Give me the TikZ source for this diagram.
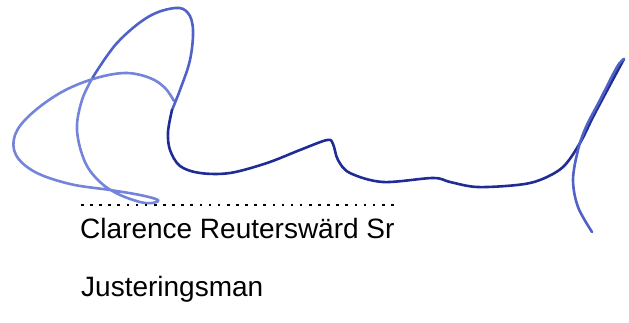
\documentclass[tikz,border=0pt]{standalone}
\usepackage{fontspec}
\setmainfont{Liberation Sans}
\definecolor{inkdark}{RGB}{32,44,150}
\definecolor{inkmid}{RGB}{80,98,200}
\definecolor{inklight}{RGB}{115,132,218}
\tikzset{
  ink/.style={line width=2.6pt, line cap=round, line join=round},
  inktext/.style={font=\fontsize{28}{32}\selectfont, inner sep=0pt}
}
\begin{document}
\begin{tikzpicture}[x=1pt, y=-1pt]
	\useasboundingbox (0,0) rectangle (629,323);

	% signature: loop
	\draw[ink, inklight] plot[smooth, tension=0.6] coordinates {(174,101) (165,88) (150,78) (125,73) (93,79) (60,93) (30,115) (15,135) (16,155) (35,172) (70,184) (110,190) (140,195) (158,200) (152,203) (140,202) (118,194) (100,182) (85,162) (77,130) (82,100) (93,77)};
	% signature: hump
	\draw[ink, inkmid] plot[smooth, tension=0.6] coordinates {(93,77) (117,43) (148,17) (175,8) (188,13) (193,30) (190,60) (180,90) (172,110)};
	% signature: main line and end stroke
	\draw[ink, inkdark] plot[smooth, tension=0.55] coordinates {(172,110) (168,132) (170,150) (180,166) (200,173) (230,173) (267,163) (300,150) (327,140) (333,144) (338,160) (350,173) (383,182) (433,178) (450,182) (477,187) (517,185) (540,180) (563,167) (580,143) (593,117) (610,85) (624,59)};
	\draw[ink, inkmid] plot[smooth, tension=0.55] coordinates {(624,59) (617,67) (600,100) (586,127) (578,150) (573,180) (578,207) (592,232)};

	% dotted line
	\foreach \i in {0,...,34}
		\fill (81+\i*9.12,203.8) rectangle ++(2.6,2.6);

	\node[inktext, anchor=base west] (name) at (80,238) {Clarence Reutersw\"ard Sr};
	\node[inktext, anchor=base west] (role) at (81,296) {Justeringsman};
\end{tikzpicture}
\end{document}
